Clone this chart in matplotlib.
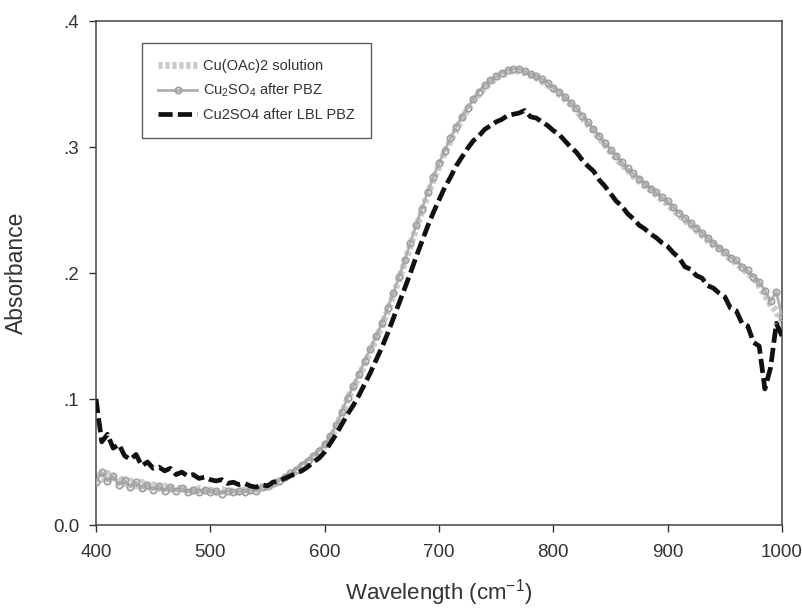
import numpy as np
import matplotlib
matplotlib.use("Agg")
import matplotlib.pyplot as plt

plt.rcParams['font.family'] = ['Liberation Sans', 'DejaVu Sans']
plt.rcParams['mathtext.fontset'] = 'custom'
plt.rcParams['mathtext.rm'] = 'Liberation Sans'
plt.rcParams['mathtext.it'] = 'Liberation Sans:italic'

# wavelength grid, 5 nm steps
wavelength = np.arange(400, 1001, 5)

# Cu(OAc)2 solution
acetate = [0.040, 0.036, 0.041, 0.034, 0.038, 0.033, 0.035, 0.031, 0.034, 0.030,
           0.032, 0.029, 0.031, 0.028, 0.030, 0.028, 0.029, 0.027, 0.029, 0.027,
           0.028, 0.026, 0.028, 0.027, 0.027, 0.026, 0.028, 0.027, 0.028, 0.029,
           0.030, 0.032, 0.034, 0.037, 0.040, 0.043, 0.047, 0.050, 0.054, 0.058,
           0.063, 0.069, 0.077, 0.088, 0.100, 0.109, 0.118, 0.128, 0.138, 0.148,
           0.158, 0.170, 0.182, 0.195, 0.208, 0.222, 0.236, 0.249, 0.262, 0.274,
           0.285, 0.296, 0.305, 0.314, 0.322, 0.330, 0.337, 0.342, 0.347, 0.351,
           0.355, 0.357, 0.359, 0.361, 0.360, 0.359, 0.357, 0.355, 0.352, 0.349,
           0.346, 0.342, 0.338, 0.334, 0.329, 0.324, 0.318, 0.313, 0.307, 0.302,
           0.296, 0.291, 0.286, 0.282, 0.277, 0.273, 0.269, 0.266, 0.262, 0.258,
           0.255, 0.250, 0.246, 0.242, 0.238, 0.234, 0.230, 0.226, 0.222, 0.219,
           0.215, 0.211, 0.208, 0.204, 0.200, 0.196, 0.190, 0.183, 0.175, 0.170,
           0.160]

# Cu2SO4 after PBZ
pbz = [0.034, 0.042, 0.035, 0.039, 0.032, 0.036, 0.030, 0.034, 0.029, 0.032,
       0.028, 0.031, 0.027, 0.030, 0.027, 0.029, 0.026, 0.028, 0.026, 0.028,
       0.026, 0.027, 0.025, 0.027, 0.026, 0.027, 0.026, 0.028, 0.027, 0.030,
       0.031, 0.033, 0.035, 0.038, 0.041, 0.044, 0.048, 0.051, 0.055, 0.059,
       0.064, 0.071, 0.079, 0.090, 0.101, 0.110, 0.120, 0.130, 0.140, 0.150,
       0.160, 0.172, 0.184, 0.197, 0.210, 0.224, 0.238, 0.251, 0.264, 0.276,
       0.287, 0.297, 0.307, 0.316, 0.324, 0.331, 0.338, 0.344, 0.349, 0.353,
       0.356, 0.359, 0.361, 0.362, 0.362, 0.360, 0.358, 0.356, 0.354, 0.351,
       0.347, 0.344, 0.340, 0.335, 0.331, 0.325, 0.320, 0.314, 0.309, 0.303,
       0.298, 0.293, 0.288, 0.283, 0.279, 0.275, 0.271, 0.267, 0.264, 0.260,
       0.257, 0.252, 0.248, 0.244, 0.240, 0.236, 0.232, 0.228, 0.224, 0.220,
       0.217, 0.212, 0.210, 0.205, 0.202, 0.197, 0.193, 0.186, 0.178, 0.185,
       0.165]

# Cu2SO4 after LBL PBZ
lbl = [0.100, 0.066, 0.072, 0.061, 0.064, 0.055, 0.052, 0.056, 0.047, 0.050,
       0.045, 0.046, 0.043, 0.045, 0.040, 0.042, 0.039, 0.040, 0.037, 0.038,
       0.036, 0.035, 0.036, 0.033, 0.034, 0.032, 0.033, 0.031, 0.030, 0.032,
       0.031, 0.034, 0.035, 0.037, 0.039, 0.041, 0.043, 0.046, 0.050, 0.053,
       0.058, 0.065, 0.072, 0.080, 0.088, 0.095, 0.103, 0.112, 0.121, 0.131,
       0.141, 0.152, 0.164, 0.176, 0.188, 0.200, 0.213, 0.225, 0.237, 0.248,
       0.258, 0.268, 0.276, 0.285, 0.292, 0.299, 0.305, 0.309, 0.314, 0.317,
       0.320, 0.322, 0.325, 0.326, 0.327, 0.329, 0.324, 0.323, 0.320, 0.317,
       0.313, 0.310, 0.305, 0.300, 0.296, 0.290, 0.285, 0.281, 0.274, 0.269,
       0.263, 0.257, 0.253, 0.247, 0.243, 0.238, 0.235, 0.231, 0.228, 0.224,
       0.221, 0.216, 0.212, 0.205, 0.203, 0.198, 0.196, 0.190, 0.188, 0.184,
       0.181, 0.172, 0.170, 0.160, 0.158, 0.145, 0.142, 0.108, 0.125, 0.160,
       0.150]

xticks = [400, 500, 600, 700, 800, 900, 1000]
yticks = [0.0, 0.1, 0.2, 0.3, 0.4]
ytick_labels = ['0.0', '.1', '.2', '.3', '.4']

fig = plt.figure(figsize=(8.03, 6.09), dpi=100)
ax = fig.add_axes([0.1196, 0.1379, 0.8543, 0.8276])

ax.plot(wavelength, acetate, color='#cbcbcb', lw=5, ls=(0, (0.6, 0.4)),
        label='Cu(OAc)2 solution', zorder=2)
ax.plot(wavelength, pbz, color='#b0b0b0', lw=2, marker='o', ms=4.5,
        mfc='none', mec='#a0a0a0', mew=1.3, label='Cu$_2$SO$_4$ after PBZ', zorder=3)
ax.plot(wavelength, lbl, color='#111111', lw=3.4, ls=(0, (3, 1.1)),
        label='Cu2SO4 after LBL PBZ', zorder=4)

ax.set_xlim(400, 1000)
ax.set_ylim(0, 0.4)
ax.set_xticks(xticks)
ax.set_yticks(yticks)
ax.set_yticklabels(ytick_labels)
ax.tick_params(direction='out', length=5, width=1, labelsize=13.5, colors='#333333',
               top=False, right=False)
ax.tick_params(axis='x', pad=9)
ax.tick_params(axis='y', pad=7)
for s in ax.spines.values():
    s.set_color('#444444')
    s.set_linewidth(1.1)

ax.set_xlabel('Wavelength (cm$^{-1}$)', fontsize=16, color='#333333', labelpad=11)
ax.set_ylabel('Absorbance', fontsize=16.5, color='#333333', labelpad=18)

leg = ax.legend(loc='upper left', bbox_to_anchor=(0.067, 0.956), fontsize=10.5,
                frameon=True, fancybox=False, edgecolor='#333333',
                handlelength=2.7, handletextpad=0.4, labelspacing=0.6,
                borderpad=1.1, borderaxespad=0)
leg.get_frame().set_linewidth(1.0)
for t in leg.get_texts():
    t.set_color('#333333')

fig.savefig('out.png', dpi=100)
